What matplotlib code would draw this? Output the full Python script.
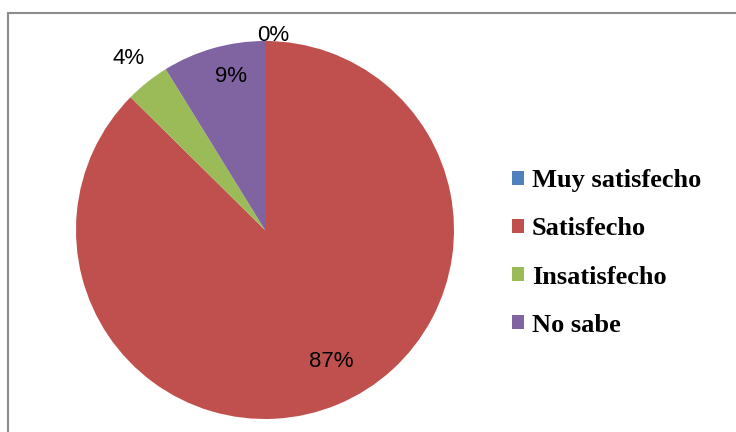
import matplotlib
matplotlib.use("Agg")
import matplotlib.pyplot as plt
from matplotlib.patches import Rectangle, Patch
import numpy as np

# --- Datos ---
categorias = ["Muy satisfecho", "Satisfecho", "Insatisfecho", "No sabe"]
porcentajes = [0.0, 87.4, 3.8, 8.8]
colores = ["#4F81BD", "#C0504D", "#9BBB59", "#8064A2"]
# posición de cada etiqueta: distancia al centro (radios) y desvío angular (grados)
dist_etiqueta = [1.03, 0.78, 1.16, 0.83]
desvio_etiqueta = [-2.5, 4.0, 0.0, -3.5]

W, H = 736, 432
fig = plt.figure(figsize=(W / 100, H / 100), dpi=100)
fig.patch.set_facecolor("white")

# marco gris del área del gráfico (recortado a la derecha y abajo)
fig.patches.append(Rectangle((8 / W, -0.1), 1.2, (H - 13) / H + 0.1,
                             transform=fig.transFigure, fill=False,
                             edgecolor="#8c8c8c", linewidth=1.5))

cx, cy, r = 265, 230, 189
ax = fig.add_axes([(cx - r) / W, (H - cy - r) / H, 2 * r / W, 2 * r / H])
wedges, _ = ax.pie(porcentajes, colors=colores, startangle=90, counterclock=False,
                   radius=1, wedgeprops=dict(linewidth=0))
ax.set_xlim(-1, 1)
ax.set_ylim(-1, 1)
ax.set_aspect("equal")
ax.axis("off")

for w, p, d, off in zip(wedges, porcentajes, dist_etiqueta, desvio_etiqueta):
    ang = np.deg2rad((w.theta1 + w.theta2) / 2 + off)
    ax.text(d * np.cos(ang), d * np.sin(ang), f"{p:.0f}%",
            ha="center", va="center", fontsize=16,
            family="Liberation Sans", color="black", clip_on=False)

handles = [Patch(facecolor=c, edgecolor="none") for c in colores]
fig.legend(handles, categorias, loc="center left",
           bbox_to_anchor=(512 / W, (H - 253) / H), frameon=False,
           prop=dict(family="Liberation Serif", weight="bold", size=19),
           handlelength=0.45, handleheight=0.45, handletextpad=0.3,
           labelspacing=0.95, borderpad=0, borderaxespad=0)

fig.savefig("out.png", dpi=100)
